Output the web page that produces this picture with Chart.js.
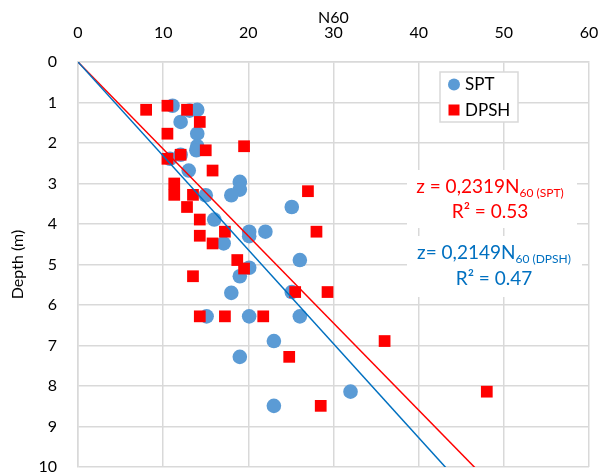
<!DOCTYPE html>
<html>
<head>
<meta charset="utf-8">
<script src="https://cdn.jsdelivr.net/npm/chart.js@4.4.0/dist/chart.umd.min.js"></script>
<style>
	html,body{margin:0;padding:0;background:#fff;}
	#contenitore{width:603px;height:476px;}
</style>
</head>
<body>
<div id="contenitore"><canvas id="grafico" width="603" height="476"></canvas></div>
<script>
// ---- DATI ----
// SPT: N60 e profondita (m)
const spt_n = [11.1, 13.1, 14.0, 12.05, 14.0, 14.0, 13.9, 12.05, 10.8, 13.0, 19.0, 19.0, 18.0, 15.0, 25.1, 16.0,
	20.1, 22.0, 20.1, 17.1, 26.05, 20.1, 19.0, 18.0, 25.1, 15.1, 20.1, 26.05, 23.0, 19.0, 32.0, 23.0];
const spt_z = [1.08, 1.2, 1.18, 1.48, 1.77, 2.08, 2.18, 2.29, 2.39, 2.68, 2.96, 3.15, 3.29, 3.29, 3.58, 3.89,
	4.19, 4.19, 4.3, 4.48, 4.89, 5.08, 5.29, 5.7, 5.68, 6.28, 6.28, 6.28, 6.89, 7.28, 8.14, 8.49];

// DPSH: N60 e profondita (m)
const dpsh_n = [8.0, 10.5, 12.8, 14.3, 10.5, 15.0, 19.5, 12.05, 10.5, 15.8, 11.3, 11.3, 13.5, 27.0, 12.8, 14.3,
	17.25, 28.0, 14.3, 15.8, 18.7, 19.5, 13.5, 25.5, 29.3, 14.3, 17.25, 21.75, 36.0, 24.8, 28.5, 48.0];
const dpsh_z = [1.18, 1.08, 1.18, 1.48, 1.77, 2.18, 2.08, 2.29, 2.39, 2.68, 3.0, 3.28, 3.28, 3.19, 3.58, 3.89,
	4.19, 4.19, 4.29, 4.48, 4.89, 5.1, 5.29, 5.68, 5.68, 6.28, 6.28, 6.28, 6.89, 7.28, 8.49, 8.14];

// rette di tendenza z = k * N60 (blu, rossa)
const pendenze = [0.2319, 0.2149];
const colori_rette = ['#0070C0', '#FF0000'];

// tick degli assi
const tick_x = [0, 10, 20, 30, 40, 50, 60];
const tick_y = [0, 1, 2, 3, 4, 5, 6, 7, 8, 9, 10];

// testi delle equazioni
const eq_rossa = ['z = 0,2319N', '60 (SPT)', 'R² = 0.53'];
const eq_blu = ['z= 0,2149N', '60 (DPSH)', 'R² = 0.47'];

const FONT = 'Lato';
const GRIGIO = '#d9d9d9';

function punti(n, z){
	return n.map((v, i) => ({x: v, y: z[i]}));
}

function retta(k){
	const zmax = tick_y[tick_y.length - 1] + 2;
	return [{x: 0, y: 0}, {x: zmax / k, y: zmax}];
}

// ---- testi e legenda disegnati a mano ----
const testi = {
	id: 'testi',
	afterDraw(chart){
		const ctx = chart.ctx;
		ctx.save();

		// sfondo bianco sotto le equazioni
		ctx.fillStyle = '#fff';
		ctx.fillRect(407, 170, 170, 58);
		ctx.fillRect(407, 236, 175, 61);

		function equazione(t, cx, y1, y2, colore){
			ctx.fillStyle = colore;
			ctx.textBaseline = 'alphabetic';
			ctx.font = '19px ' + FONT;
			const w1 = ctx.measureText(t[0]).width;
			ctx.font = '12px ' + FONT;
			const w2 = ctx.measureText(t[1]).width;
			let x = cx - (w1 + w2) / 2;
			ctx.textAlign = 'left';
			ctx.font = '19px ' + FONT;
			ctx.fillText(t[0], x, y1);
			ctx.font = '12px ' + FONT;
			ctx.fillText(t[1], x + w1, y1 + 4);
			ctx.font = '19px ' + FONT;
			ctx.textAlign = 'center';
			ctx.fillText(t[2], cx, y2);
		}
		equazione(eq_rossa, 490, 193, 218, '#FF0000');
		equazione(eq_blu, 494, 259, 285, '#0070C0');

		// legenda
		ctx.fillStyle = '#fff';
		ctx.fillRect(440, 72, 78, 50);
		ctx.strokeStyle = GRIGIO;
		ctx.lineWidth = 1.5;
		ctx.strokeRect(440, 72, 78, 50);

		ctx.fillStyle = '#5B9BD5';
		ctx.beginPath();
		ctx.arc(454, 84.5, 6, 0, Math.PI * 2);
		ctx.fill();
		ctx.fillStyle = '#FF0000';
		ctx.fillRect(448.5, 104.5, 11, 11);

		ctx.fillStyle = '#000';
		ctx.font = '17px ' + FONT;
		ctx.textAlign = 'left';
		ctx.textBaseline = 'middle';
		ctx.fillText('SPT', 465, 85);
		ctx.fillText('DPSH', 465, 111);

		ctx.restore();
	}
};

function creaGrafico(){
	const canvas = document.getElementById('grafico');
	const ctx = canvas.getContext('2d');

	const data = {
		datasets: [
			{
				type: 'line',
				data: retta(pendenze[0]),
				borderColor: colori_rette[0],
				borderWidth: 1.5,
				pointRadius: 0,
				fill: false
			},
			{
				type: 'line',
				data: retta(pendenze[1]),
				borderColor: colori_rette[1],
				borderWidth: 1.5,
				pointRadius: 0,
				fill: false
			},
			{
				label: 'DPSH',
				data: punti(dpsh_n, dpsh_z),
				pointStyle: 'rect',
				pointRadius: 8.3,
				backgroundColor: '#FF0000',
				borderColor: '#FF0000',
				borderWidth: 0
			},
			{
				label: 'SPT',
				data: punti(spt_n, spt_z),
				pointStyle: 'circle',
				pointRadius: 7.3,
				backgroundColor: '#5B9BD5',
				borderColor: '#5B9BD5',
				borderWidth: 0
			}
		]
	};

	const config = {
		type: 'scatter',
		data: data,
		options: {
			responsive: false,
			animation: false,
			layout: { padding: { left: 0, top: 0, right: 14, bottom: 9 } },
			scales: {
				x: {
					type: 'linear',
					position: 'top',
					min: tick_x[0],
					max: tick_x[tick_x.length - 1],
					afterBuildTicks: s => { s.ticks = tick_x.map(v => ({value: v})); },
					afterFit: s => { s.height = 62; s.paddingLeft = 0; s.paddingRight = 0; },
					grid: { color: GRIGIO, lineWidth: 1.5, drawTicks: false },
					border: { color: GRIGIO, width: 1.5 },
					ticks: { padding: 20, color: '#000', font: { family: FONT, size: 16 } },
					title: {
						display: true,
						text: 'N60',
						color: '#000',
						padding: { top: 8, bottom: 0 },
						font: { family: FONT, size: 16 }
					}
				},
				y: {
					type: 'linear',
					reverse: true,
					min: tick_y[0],
					max: tick_y[tick_y.length - 1],
					afterBuildTicks: s => { s.ticks = tick_y.map(v => ({value: v})); },
					afterFit: s => { s.width = 78; s.paddingTop = 0; s.paddingBottom = 0; },
					grid: { color: GRIGIO, lineWidth: 1.5, drawTicks: false },
					border: { color: GRIGIO, width: 1.5 },
					ticks: { padding: 21, color: '#000', font: { family: FONT, size: 16 } },
					title: {
						display: true,
						text: 'Depth (m)',
						color: '#000',
						padding: { top: 8, bottom: 0 },
						font: { family: FONT, size: 16 }
					}
				}
			},
			plugins: {
				legend: { display: false },
				tooltip: { enabled: false }
			}
		},
		plugins: [testi]
	};

	return new Chart(ctx, config);
}

document.fonts.load('16px Lato').then(creaGrafico, creaGrafico);
</script>
</body>
</html>
